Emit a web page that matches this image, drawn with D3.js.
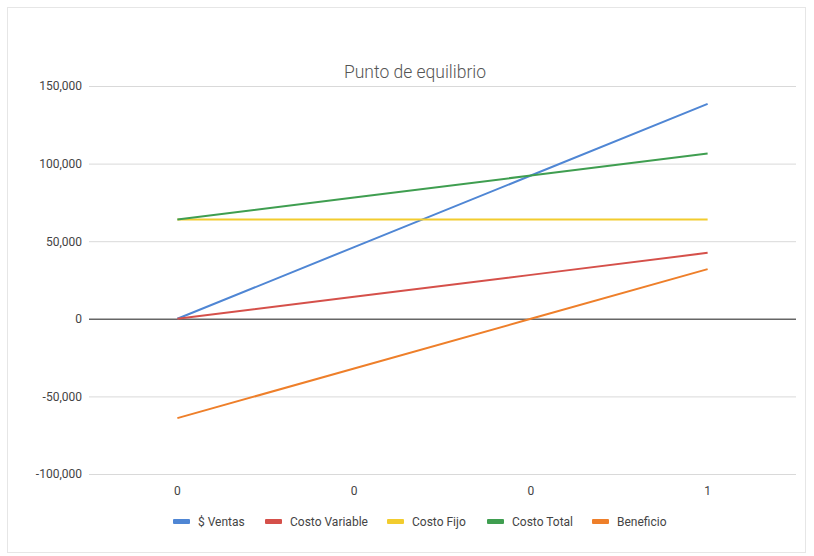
<!DOCTYPE html>
<html>
<head>
<meta charset="utf-8">
<script src="https://cdn.jsdelivr.net/npm/d3@7"></script>
<style>
  body { margin: 0; background: #fff; }
  text { font-family: Roboto, "Noto Sans", sans-serif; }
</style>
</head>
<body>
<div id="chart"></div>
<script>
// Chart data
const categories = ["0", "0", "0", "1"];
const seriesNames = ["$ Ventas", "Costo Variable", "Costo Fijo", "Costo Total", "Beneficio"];
const ventas = [0, 46200, 92300, 138500];
const costoVariable = [0, 14200, 28300, 42500];
const costoFijo = [64000, 64000, 64000, 64000];
const costoTotal = [64000, 78200, 92300, 106500];
const beneficio = [-64000, -32000, 0, 32000];
const yTicks = [-100000, -50000, 0, 50000, 100000, 150000];
const colors = ["#4f86d4", "#d5504a", "#f2cc2e", "#3f9e50", "#ee7f2a"];

const series = [ventas, costoVariable, costoFijo, costoTotal, beneficio];

const W = 814, H = 556;
const margin = { top: 86, right: 18, bottom: 82, left: 89 };
const width = W - margin.left - margin.right;
const height = H - margin.top - margin.bottom;

const root = d3.select("#chart").append("svg")
  .attr("width", W)
  .attr("height", H);

// outer border
root.append("rect")
  .attr("x", 7.5).attr("y", 7.5)
  .attr("width", 798).attr("height", 545)
  .attr("fill", "#fff")
  .attr("stroke", "#e6e6e6");

root.append("text")
  .attr("x", 415)
  .attr("y", 78)
  .attr("text-anchor", "middle")
  .attr("font-size", 17.5)
  .attr("font-weight", 300)
  .attr("fill", "#555")
  .text("Punto de equilibrio");

const svg = root.append("g")
  .attr("transform", "translate(" + margin.left + "," + margin.top + ")");

const x = d3.scaleBand()
  .domain(d3.range(categories.length))
  .range([0, width]);

const y = d3.scaleLinear()
  .domain([-100000, 150000])
  .range([height, 0]);

const fmt = d3.format(",");

// gridlines + y labels
const yAxis = svg.append("g")
  .call(d3.axisLeft(y).tickValues(yTicks).tickSize(-width).tickPadding(7)
    .tickFormat(d => fmt(d).replace("\u2212", "-")));
yAxis.select(".domain").remove();
yAxis.selectAll("line")
  .attr("stroke", d => d === 0 ? "#666" : "#d9d9d9")
  .attr("stroke-width", d => d === 0 ? 1.6 : 1);
yAxis.selectAll("text").attr("font-size", 12).attr("fill", "#444");

// x labels
const xAxis = svg.append("g")
  .attr("transform", "translate(0," + height + ")")
  .call(d3.axisBottom(x).tickSize(0).tickPadding(12).tickFormat(i => categories[i]));
xAxis.select(".domain").remove();
xAxis.selectAll("text").attr("font-size", 12).attr("fill", "#444");

const line = d3.line()
  .x((d, i) => x(i) + x.bandwidth() / 2)
  .y(d => y(d));

svg.selectAll(".series")
  .data(series)
  .enter().append("path")
  .attr("class", "series")
  .attr("fill", "none")
  .attr("stroke", (d, i) => colors[i])
  .attr("stroke-width", 2)
  .attr("d", line);

// legend
const legendX = [173, 265, 387, 487, 592];
const legend = root.append("g").attr("transform", "translate(0,522)");
const item = legend.selectAll("g")
  .data(seriesNames)
  .enter().append("g")
  .attr("transform", (d, i) => "translate(" + legendX[i] + ",0)");
item.append("rect")
  .attr("x", 0).attr("y", -3)
  .attr("width", 17).attr("height", 5)
  .attr("rx", 1)
  .attr("fill", (d, i) => colors[i]);
item.append("text")
  .attr("x", 25).attr("y", 4)
  .attr("font-size", 12)
  .attr("fill", "#444")
  .text(d => d);
</script>
</body>
</html>
